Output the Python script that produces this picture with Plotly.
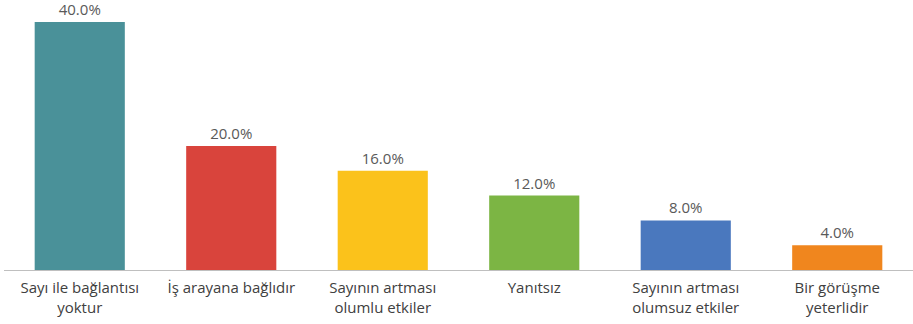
import plotly.graph_objects as go

categories = ["Sayı ile bağlantısı<br>yoktur", "İş arayana bağlıdır", "Sayının artması<br>olumlu etkiler",
              "Yanıtsız", "Sayının artması<br>olumsuz etkiler", "Bir görüşme<br>yeterlidir"]
values = [40.0, 20.0, 16.0, 12.0, 8.0, 4.0]
colors = ["#4A9199", "#D9443C", "#FBC21B", "#7CB544", "#4A78BE", "#F0861E"]

fig = go.Figure(go.Bar(
    x=categories, y=values, marker_color=colors, marker_line_width=0,
    text=[f"{v:.1f}%" for v in values], textposition="outside",
    textfont=dict(family="Open Sans", size=15, color="#595959"),
    cliponaxis=False,
))
fig.update_layout(
    width=913, height=324,
    margin=dict(l=4, r=0, t=22, b=54),
    paper_bgcolor="white", plot_bgcolor="white",
    bargap=0.405, showlegend=False,
    font=dict(family="Open Sans", size=15, color="#404040"),
)
fig.update_xaxes(showline=True, linecolor="#BFBFBF", linewidth=1, ticks="",
                 ticklabelstandoff=4,
                 tickfont=dict(family="Open Sans", size=15, color="#404040"))
fig.update_yaxes(range=[0, 40], visible=False, showgrid=False)
fig.write_html("out.html")
